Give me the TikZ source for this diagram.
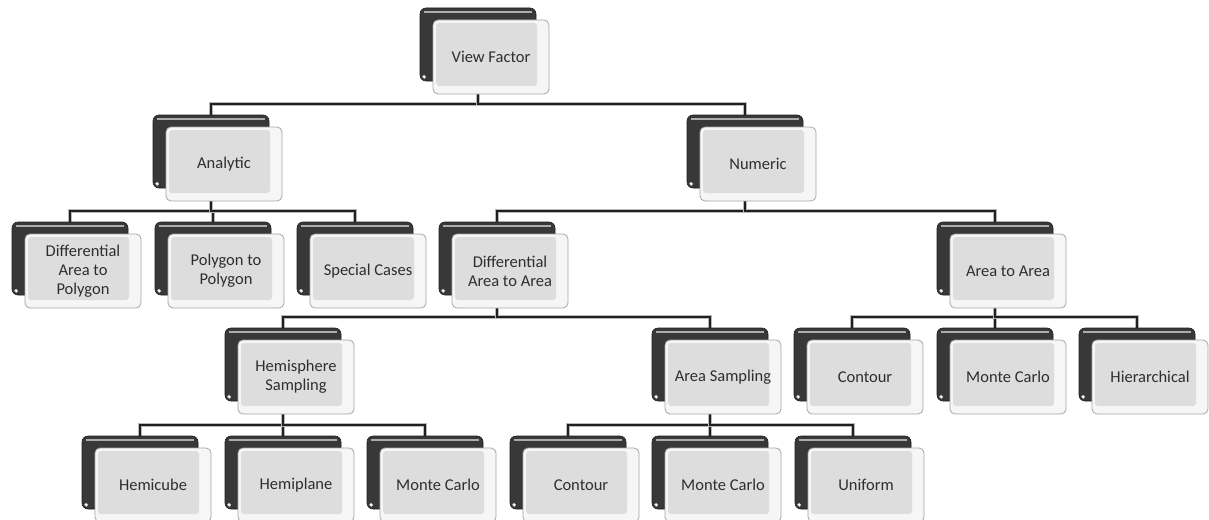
\documentclass[tikz,border=0pt]{standalone}
\usepackage{fontspec}
\setmainfont{Carlito}
\pgfdeclarelayer{bg}
\pgfsetlayers{bg,main}
\tikzset{
  backbox/.style={rectangle, rounded corners=6pt, minimum width=116pt, minimum height=73pt,
    inner sep=0pt, fill=black!78, draw=black!88, line width=0.6pt,
    path picture={\draw[gray!65, line width=2.2pt]
      ([shift={(4pt,-4pt)}]path picture bounding box.north west) --
      ([shift={(-4pt,-4pt)}]path picture bounding box.north east);}},
  frontbox/.style={rectangle, rounded corners=5pt, minimum width=116pt, minimum height=74pt,
    inner sep=2pt, fill=gray!7, draw=gray!70, line width=0.8pt, text=black!82,
    font=\fontsize{16.5}{19}\selectfont, align=center,
    path picture={\fill[gray!27, rounded corners=3pt]
      ([shift={(3pt,-3pt)}]path picture bounding box.north west) rectangle
      ([shift={(-12pt,8pt)}]path picture bounding box.south east);}},
  conn/.style={draw=black!88, line width=2.2pt, line join=miter,
    preaction={draw=gray!55, line width=3.6pt}},
  dot/.style={fill=white, draw=gray!60, line width=0.3pt}
}
\newcommand{\vfbox}[4]{%
  \node[backbox] (#1-b) at (#2+58,#3+36.5) {};
  \fill[dot] ([shift={(4.5pt,4.5pt)}]#1-b.south west) circle (1.8pt);
  \node[frontbox] (#1) at (#2+71,#3+49) {#4};
}
\newcommand{\vfconn}[2]{%
  \draw[conn] (#1-b.center) |- ([yshift=11pt]#2-b.north) -- (#2-b.north);
}
\begin{document}
\begin{tikzpicture}[x=1pt,y=-1pt]
\useasboundingbox (0,0) rectangle (1209,519);
\vfbox{vf}{420}{8}{View Factor}
\vfbox{an}{153}{115}{Analytic}
\vfbox{nu}{687}{115}{Numeric}
\vfbox{dap}{12}{222}{Differential\\Area to\\Polygon}
\vfbox{pp}{155}{222}{Polygon to\\Polygon}
\vfbox{sc}{297}{222}{Special Cases}
\vfbox{daa}{439}{222}{Differential\\Area to Area}
\vfbox{aa}{937}{222}{Area to Area}
\vfbox{hs}{225}{328}{Hemisphere\\Sampling}
\vfbox{as}{652}{328}{Area Sampling}
\vfbox{ca}{794}{328}{Contour}
\vfbox{mca}{937}{328}{Monte Carlo}
\vfbox{hi}{1079}{328}{Hierarchical}
\vfbox{hc}{82}{436}{Hemicube}
\vfbox{hp}{225}{436}{Hemiplane}
\vfbox{mch}{367}{436}{Monte Carlo}
\vfbox{cs}{510}{436}{Contour}
\vfbox{mcs}{652}{436}{Monte Carlo}
\vfbox{un}{795}{436}{Uniform}
\begin{pgfonlayer}{bg}
\fill[white] (0,0) rectangle (1209,519);
\vfconn{vf}{an}\vfconn{vf}{nu}
\vfconn{an}{dap}\vfconn{an}{pp}\vfconn{an}{sc}
\vfconn{nu}{daa}\vfconn{nu}{aa}
\vfconn{daa}{hs}\vfconn{daa}{as}
\vfconn{aa}{ca}\vfconn{aa}{mca}\vfconn{aa}{hi}
\vfconn{hs}{hc}\vfconn{hs}{hp}\vfconn{hs}{mch}
\vfconn{as}{cs}\vfconn{as}{mcs}\vfconn{as}{un}
\end{pgfonlayer}
\end{tikzpicture}
\end{document}
